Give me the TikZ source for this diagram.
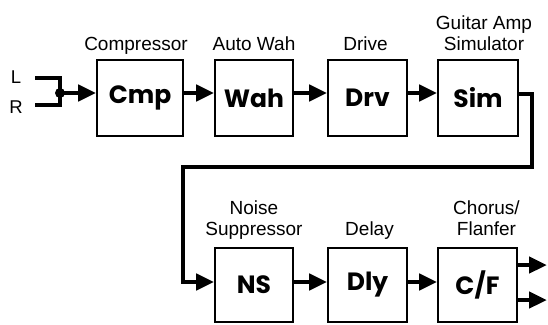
\documentclass[tikz,border=0pt]{standalone}
\usepackage{fontspec}
\setmainfont{Liberation Sans}
\newfontfamily\fxfont{Poppins}
\usetikzlibrary{arrows.meta,positioning}
\definecolor{fxedge}{RGB}{0,0,0}
\tikzset{
  fxbox/.style={
    draw=fxedge, line width=1.8pt, inner sep=0pt,
    minimum height=76pt, font=\fxfont\bfseries\fontsize{25}{28}\selectfont
  },
  lbl/.style={
    font=\fontsize{19}{21}\selectfont, align=center,
    inner sep=0pt, text depth=4pt
  },
  io/.style={font=\fontsize{18.5}{21}\selectfont, inner sep=0pt},
  wire/.style={draw=fxedge, line width=4.5pt},
  arr/.style={wire, -{Triangle[length=18pt,width=16pt]}},
  dot/.style={fill=fxedge}
}
\begin{document}
\begin{tikzpicture}[x=1pt, y=-1pt, line join=miter]
  \useasboundingbox (0,0) rectangle (548,324);
  % upper chain
  \node[fxbox, minimum width=86pt] (cmp) at (140,98) {Cmp};
  \node[fxbox, minimum width=78pt] (wah) at (254,98) {Wah};
  \node[fxbox, minimum width=79pt] (drv) at (367.5,98) {Drv};
  \node[fxbox, minimum width=80pt] (sim) at (478,98) {Sim};
  % lower chain
  \node[fxbox, minimum width=78pt, minimum height=74pt] (ns) at (254,285) {NS};
  \node[fxbox, minimum width=79pt, minimum height=74pt] (dly) at (367.5,285) {Dly};
  \node[fxbox, minimum width=79pt, minimum height=74pt] (cf) at (477.5,285) {C/F};
  % titles
  \node[lbl, above=4pt of cmp, xshift=-4pt] (cmpt) {Compressor};
  \node[lbl, above=4pt of wah] (waht) {Auto Wah};
  \node[lbl, above=4pt of drv, xshift=-2pt] (drvt) {Drive};
  \node[lbl, above=4pt of sim, xshift=6pt] (simt) {Guitar Amp\\Simulator};
  \node[lbl, above=7pt of ns] (nst) {Noise\\Suppressor};
  \node[lbl, above=7pt of dly, xshift=2pt] (dlyt) {Delay};
  \node[lbl, above=7pt of cf, xshift=9pt] (cft) {Chorus/\\Flanfer};
  % input
  \node[io] (inlt) at (16,77) {L};
  \node[io] (inrt) at (16,107) {R};
  \coordinate (inl) at (35,78);
  \coordinate (inr) at (35,105);
  \coordinate (jn) at (60,93);
  \draw[wire] (inl) -| (jn) |- (inr);
  \fill[dot] (jn) circle (5pt);
  \draw[arr] (jn) -- ([yshift=5pt]cmp.west);
  \draw[arr] ([yshift=5pt]cmp.east) -- ([yshift=5pt]wah.west);
  \draw[arr] ([yshift=5pt]wah.east) -- ([yshift=5pt]drv.west);
  \draw[arr] ([yshift=5pt]drv.east) -- ([yshift=5pt]sim.west);
  % return line
  \coordinate (tr) at (532,167);
  \coordinate (tl) at (183,167);
  \draw[arr] ([yshift=4pt]sim.east) -| (tr) -- (tl) |- ([yshift=3pt]ns.west);
  \draw[arr] ([yshift=3pt]ns.east) -- ([yshift=3pt]dly.west);
  \draw[arr] ([yshift=3pt]dly.east) -- ([yshift=3pt]cf.west);
  % outputs
  \coordinate (outa) at (547,265);
  \coordinate (outb) at (547,300);
  \draw[arr] (cf.east |- outa) -- (outa);
  \draw[arr] (cf.east |- outb) -- (outb);
\end{tikzpicture}
\end{document}
